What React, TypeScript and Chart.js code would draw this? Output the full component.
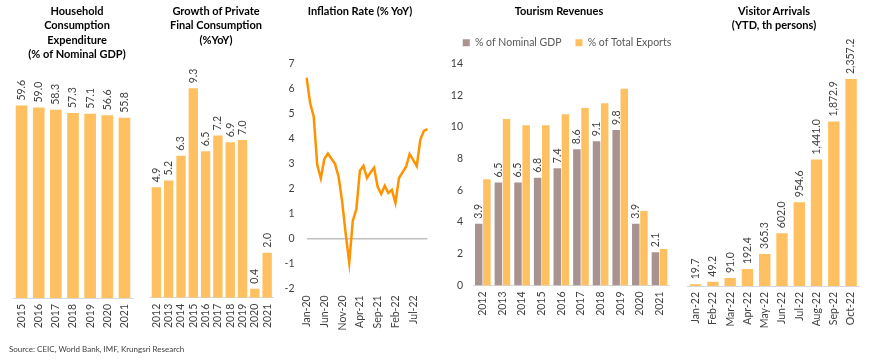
import React, { useEffect, useRef } from 'react';
import { Chart, registerables } from 'chart.js';

Chart.register(...registerables);

// ---------- data ----------
const hhYears = ['2015', '2016', '2017', '2018', '2019', '2020', '2021'];
const hhValues = [59.6, 59.0, 58.3, 57.3, 57.1, 56.6, 55.8];

const pfcYears = ['2012', '2013', '2014', '2015', '2016', '2017', '2018', '2019', '2020', '2021'];
const pfcValues = [4.9, 5.2, 6.3, 9.3, 6.5, 7.2, 6.9, 7.0, 0.4, 2.0];

const cpiMonths = [
  'Jan-20', 'Feb-20', 'Mar-20', 'Apr-20', 'May-20', 'Jun-20', 'Jul-20', 'Aug-20', 'Sep-20', 'Oct-20', 'Nov-20', 'Dec-20',
  'Jan-21', 'Feb-21', 'Mar-21', 'Apr-21', 'May-21', 'Jun-21', 'Jul-21', 'Aug-21', 'Sep-21', 'Oct-21', 'Nov-21', 'Dec-21',
  'Jan-22', 'Feb-22', 'Mar-22', 'Apr-22', 'May-22', 'Jun-22', 'Jul-22', 'Aug-22', 'Sep-22', 'Oct-22', 'Nov-22',
];
const cpiValues = [
  6.43, 5.4, 4.87, 2.93, 2.4, 3.17, 3.39, 3.18, 2.98, 2.47, 1.48, 0.19,
  -0.97, 0.7, 1.16, 2.7, 2.9, 2.41, 2.64, 2.82, 2.06, 1.77, 2.1, 1.81,
  1.94, 1.42, 2.41, 2.64, 2.86, 3.37, 3.14, 2.89, 3.94, 4.3, 4.37,
];
const cpiTickEvery = 5;

const trYears = ['2012', '2013', '2014', '2015', '2016', '2017', '2018', '2019', '2020', '2021'];
const trGdp = [3.9, 6.5, 6.5, 6.8, 7.4, 8.6, 9.1, 9.8, 3.9, 2.1];
const trExports = [6.7, 10.5, 10.1, 10.1, 10.8, 11.2, 11.5, 12.4, 4.7, 2.3];
const trSeriesNames = ['% of Nominal GDP', '% of Total Exports'];

const vaMonths = ['Jan-22', 'Feb-22', 'Mar-22', 'Apr-22', 'May-22', 'Jun-22', 'Jul-22', 'Aug-22', 'Sep-22', 'Oct-22'];
const vaValues = [19.7, 49.2, 91.0, 192.4, 365.3, 602.0, 954.6, 1441.0, 1872.9, 2357.2];

// ---------- style ----------
const W = 870;
const H = 361;
const FONT = 'Lato, "Open Sans", sans-serif';
const ORANGE = '#FFC061';
const GRAY = '#A89391';
const LINE = '#FF9200';
const TEXT = '#404040';
const AXIS = '#D9D9D9';
const TICK_SIZE = 10.5;

Chart.defaults.font.family = FONT;
Chart.defaults.font.size = TICK_SIZE;
Chart.defaults.color = TEXT;

const valueLabels = {
  id: 'valueLabels',
  afterDatasetsDraw(chart: any, _args: any, opts: any) {
    if (!opts || !opts.enabled) return;
    const ctx = chart.ctx;
    const di = opts.datasetIndex || 0;
    const ds = chart.data.datasets[di];
    const meta = chart.getDatasetMeta(di);
    ctx.save();
    ctx.font = `${TICK_SIZE}px ${FONT}`;
    ctx.fillStyle = TEXT;
    ctx.textAlign = 'left';
    ctx.textBaseline = 'middle';
    meta.data.forEach((el: any, i: number) => {
      const v = ds.data[i] as number;
      const txt = opts.thousands
        ? v.toLocaleString('en-US', { minimumFractionDigits: 1, maximumFractionDigits: 1 })
        : v.toFixed(1);
      ctx.save();
      ctx.translate(el.x, el.y - (opts.offset || 5));
      ctx.rotate(-Math.PI / 2);
      ctx.fillText(txt, 0, 0);
      ctx.restore();
    });
    ctx.restore();
  },
};
Chart.register(valueLabels as any);

type Area = { left: number; right: number; top: number; bottom: number };

function rotatedX(bottom: number, pad: number) {
  return {
    grid: { display: false, drawTicks: false, tickLength: 0 },
    border: { display: true, color: AXIS, width: 1 },
    ticks: { autoSkip: false, minRotation: 90, maxRotation: 90, padding: pad, color: TEXT },
    afterFit: (s: any) => {
      s.height = H - bottom;
    },
  };
}

function simpleBar(labels: string[], values: number[], area: Area, max: number, barPct: number, thousands: boolean) {
  return {
    type: 'bar',
    data: {
      labels,
      datasets: [{ data: values, backgroundColor: ORANGE, categoryPercentage: 1, barPercentage: barPct }],
    },
    options: {
      animation: false,
      responsive: false,
      layout: { padding: { left: area.left, right: W - area.right, top: area.top, bottom: 0 } },
      plugins: {
        legend: { display: false },
        tooltip: { enabled: false },
        valueLabels: { enabled: true, datasetIndex: 0, thousands, offset: 5 },
      },
      scales: {
        x: rotatedX(area.bottom, 6),
        y: { display: false, min: 0, max },
      },
    },
  };
}

const YW = 30;

function inflationConfig() {
  const area = { left: 306.6, right: 427.4, top: 63.3, bottom: 288.3 };
  return {
    type: 'line',
    data: {
      labels: cpiMonths,
      datasets: [
        { data: cpiValues, borderColor: LINE, borderWidth: 2.5, pointRadius: 0, tension: 0, fill: false },
      ],
    },
    options: {
      animation: false,
      responsive: false,
      layout: { padding: { left: area.left - YW, right: W - area.right, top: area.top, bottom: 0 } },
      plugins: { legend: { display: false }, tooltip: { enabled: false } },
      scales: {
        x: {
          grid: { display: false, drawTicks: false, tickLength: 0 },
          border: { display: false },
          ticks: {
            autoSkip: false,
            minRotation: 90,
            maxRotation: 90,
            padding: 7,
            color: TEXT,
            callback: (_v: any, i: number) => (i % cpiTickEvery === 0 ? cpiMonths[i] : ''),
          },
          afterFit: (s: any) => {
            s.height = H - area.bottom;
          },
        },
        y: {
          min: -2,
          max: 7,
          ticks: { stepSize: 1, padding: 12, color: TEXT },
          grid: {
            drawTicks: false,
            lineWidth: 1.5,
            color: (c: any) => (c.tick && c.tick.value === 0 ? '#BFBFBF' : 'rgba(0,0,0,0)'),
          },
          border: { display: false },
          afterFit: (s: any) => {
            s.width = YW;
          },
        },
      },
    },
  };
}

function tourismConfig() {
  const area = { left: 473, right: 669.3, top: 63.5, bottom: 285.5 };
  const legendCenter = 567;
  const halfSpan = 130;
  const leftPad = legendCenter - halfSpan; // 437
  const rightPadPx = legendCenter + halfSpan; // 697
  const rightAxisW = rightPadPx - area.right;
  const p = 14;
  const legendTop = 23.45;
  return {
    type: 'bar',
    data: {
      labels: trYears,
      datasets: [
        { label: trSeriesNames[0], data: trGdp, backgroundColor: GRAY },
        { label: trSeriesNames[1], data: trExports, backgroundColor: ORANGE },
      ],
    },
    options: {
      animation: false,
      responsive: false,
      datasets: { bar: { categoryPercentage: 0.83, barPercentage: 0.92 } },
      layout: { padding: { left: leftPad, right: W - rightPadPx, top: legendTop, bottom: 0 } },
      plugins: {
        tooltip: { enabled: false },
        legend: {
          display: true,
          position: 'top',
          fullSize: true,
          labels: { boxWidth: 7, boxHeight: 7, padding: p, color: '#595959', font: { size: TICK_SIZE } },
        },
        subtitle: {
          display: true,
          text: '',
          weight: 500,
          fullSize: false,
          padding: { top: 4.55, bottom: 0 },
          font: { size: 1, lineHeight: 1 },
        },
        valueLabels: { enabled: true, datasetIndex: 0, offset: 5 },
      },
      scales: {
        x: rotatedX(area.bottom, 6),
        y: {
          min: 0,
          max: 14,
          ticks: { stepSize: 2, padding: 10, color: TEXT },
          grid: { display: false, drawTicks: false },
          border: { display: false },
          afterFit: (s: any) => {
            s.width = area.left - leftPad;
          },
        },
        yRight: {
          position: 'right',
          display: true,
          ticks: { display: false },
          grid: { display: false, drawTicks: false },
          border: { display: false },
          afterFit: (s: any) => {
            s.width = rightAxisW;
          },
        },
      },
    },
  };
}

function ChartLayer({ make }: { make: () => any }) {
  const ref = useRef<HTMLCanvasElement>(null);
  useEffect(() => {
    const chart = new Chart(ref.current as HTMLCanvasElement, make());
    return () => chart.destroy();
  }, []);
  return (
    <canvas
      ref={ref}
      width={W}
      height={H}
      style={{ position: 'absolute', left: 0, top: 0, width: W, height: H }}
    />
  );
}

function Title({ cx, lines }: { cx: number; lines: string[] }) {
  return (
    <div
      style={{
        position: 'absolute',
        left: cx - 80,
        width: 160,
        top: 4,
        textAlign: 'center',
        fontFamily: FONT,
        fontWeight: 700,
        fontSize: 11,
        lineHeight: '14.3px',
        color: '#000',
      }}
    >
      {lines.map((l, i) => (
        <div key={i}>{l}</div>
      ))}
    </div>
  );
}

export default function App() {
  return (
    <div
      style={{ position: 'fixed', left: 0, top: 0, width: W, height: H, background: '#fff', overflow: 'hidden' }}
    >
      <ChartLayer make={() => simpleBar(hhYears, hhValues, { left: 13, right: 133, top: 72, bottom: 298 }, 70, 0.68, false)} />
      <ChartLayer make={() => simpleBar(pfcYears, pfcValues, { left: 150.2, right: 273.3, top: 72.5, bottom: 297.7 }, 10, 0.76, false)} />
      <ChartLayer make={inflationConfig} />
      <ChartLayer make={tourismConfig} />
      <ChartLayer make={() => simpleBar(vaMonths, vaValues, { left: 687, right: 863.8, top: 66.5, bottom: 286 }, 2500, 0.66, true)} />
      <Title cx={77} lines={['Household', 'Consumption', 'Expenditure', '(% of Nominal GDP)']} />
      <Title cx={216} lines={['Growth of Private', 'Final Consumption', '(%YoY)']} />
      <Title cx={360} lines={['Inflation Rate (% YoY)']} />
      <Title cx={559} lines={['Tourism Revenues']} />
      <Title cx={774} lines={['Visitor Arrivals', '(YTD, th persons)']} />
      <div
        style={{
          position: 'absolute',
          left: 9,
          top: 344,
          fontFamily: FONT,
          fontSize: 8,
          color: TEXT,
          whiteSpace: 'nowrap',
        }}
      >
        Source: CEIC, World Bank, IMF, Krungsri Research
      </div>
    </div>
  );
}
